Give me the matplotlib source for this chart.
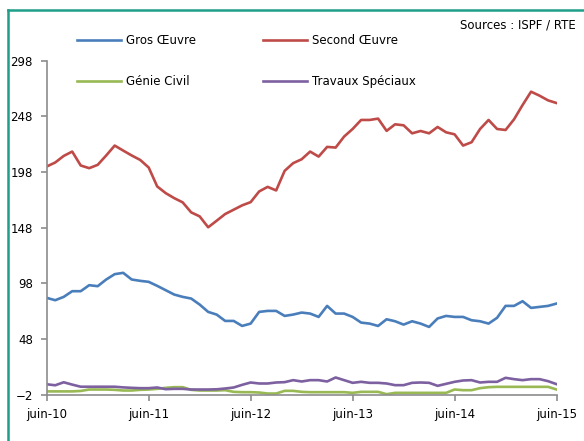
import matplotlib
matplotlib.use("Agg")
import matplotlib.pyplot as plt
from matplotlib.lines import Line2D

# Données (indices mensuels, juin 2010 -> juin 2015)
months = list(range(61))
tick_pos = [0, 12, 24, 36, 48, 60]
tick_labels = ["juin-10", "juin-11", "juin-12", "juin-13", "juin-14", "juin-15"]
y_ticks = [-2, 48, 98, 148, 198, 248, 298]

gros_oeuvre = [84.8, 82.7, 85.7, 90.8, 90.8, 96.2, 95.3, 101.3, 106.1, 107.3,
               101.3, 100.1, 99.2, 95.6, 91.7, 87.8, 85.7, 84.2, 78.8, 72.2,
               69.8, 64.1, 64.1, 59.6, 61.7, 72.2, 73.1, 73.1, 68.6, 69.8,
               71.6, 70.7, 67.7, 77.6, 70.7, 70.7, 67.7, 62.6, 61.7, 59.6,
               65.6, 63.8, 60.8, 63.8, 61.7, 58.7, 66.3, 68.6, 67.7, 67.7,
               64.7, 63.8, 61.7, 66.9, 77.6, 77.6, 81.8, 75.8, 76.7, 77.6,
               79.7]
second_oeuvre = [202.8, 206.4, 212.3, 216.2, 203.7, 201.3, 204.3, 212.7, 221.6, 217.1,
                 212.7, 208.7, 201.9, 184.9, 178.9, 174.4, 170.6, 161.6, 158.0, 148.2,
                 154.1, 160.1, 164.0, 167.9, 170.8, 180.4, 184.5, 181.3, 198.9, 205.8,
                 209.3, 216.2, 211.7, 220.4, 219.8, 229.7, 236.5, 244.6, 244.6, 245.8,
                 234.8, 240.7, 239.8, 232.6, 234.7, 232.6, 238.3, 233.5, 231.7, 221.6,
                 224.6, 236.5, 244.6, 236.5, 235.6, 245.2, 258.0, 270.0, 266.4, 262.2,
                 259.8]
genie_civil = [0.8, 0.8, 0.8, 0.8, 1.2, 2.5, 2.5, 2.5, 2.2, 1.6,
               1.6, 2.2, 2.5, 3.1, 4.0, 4.6, 4.6, 2.2, 1.6, 1.6,
               1.6, 1.9, 0.4, 0.1, 0.1, -0.2, -1.1, -1.1, 1.3, 1.3,
               0.4, 0.1, 0.1, 0.1, 0.1, 0.1, -0.5, 0.4, 0.4, 0.4,
               -1.7, -0.5, -0.5, -0.5, -0.5, -0.5, -0.5, -0.5, 2.5, 1.9,
               1.9, 3.7, 4.6, 4.9, 4.9, 4.9, 4.9, 4.9, 4.9, 4.9,
               2.5]
travaux_speciaux = [7.2, 6.3, 9.0, 6.9, 5.0, 5.0, 5.0, 5.0, 5.0, 4.4,
                    4.0, 3.7, 3.7, 4.3, 2.8, 3.1, 3.1, 2.5, 2.5, 2.5,
                    2.7, 3.4, 4.3, 6.7, 8.8, 7.9, 7.9, 8.8, 9.1, 10.9,
                    9.7, 10.9, 10.9, 9.7, 13.3, 10.9, 8.5, 9.4, 8.5, 8.5,
                    7.9, 6.4, 6.4, 8.5, 8.8, 8.5, 5.8, 7.6, 9.4, 10.6,
                    10.9, 8.8, 9.4, 9.4, 13.0, 11.8, 10.9, 11.8, 11.8, 10.0,
                    7.3]

series = [
    ("Gros Œuvre", gros_oeuvre, "#4a7ebb"),
    ("Second Œuvre", second_oeuvre, "#be4b48"),
    ("Génie Civil", genie_civil, "#98b954"),
    ("Travaux Spéciaux", travaux_speciaux, "#7d60a0"),
]

plt.rcParams["font.family"] = ["DejaVu Sans"]
fig = plt.figure(figsize=(5.84, 4.41), dpi=100)
ax = fig.add_axes([0.080, 0.1054, 0.873, 0.7574])

handles = []
for name, vals, col in series:
    h, = ax.plot(months, vals, color=col, lw=1.9, label=name, solid_joinstyle="round")
    handles.append(h)

ax.set_xlim(0, 60)
ax.set_ylim(-2, 298)
ax.set_yticks(y_ticks)
ax.set_xticks(tick_pos)
ax.set_xticklabels(tick_labels)
for s in ("top", "right"):
    ax.spines[s].set_visible(False)
for s in ("left", "bottom"):
    ax.spines[s].set_color("#8c8c8c")
    ax.spines[s].set_linewidth(1.2)
ax.tick_params(axis="both", color="#8c8c8c", length=4, width=1.2,
               labelsize=8.5, labelcolor="black")
ax.tick_params(axis="y", pad=6)
ax.tick_params(axis="x", pad=6)

leg_kw = dict(loc="upper left", frameon=False, fontsize=8.5, handlelength=3.7,
              handletextpad=0.45, labelspacing=2.35, borderpad=0, borderaxespad=0)
leg1 = fig.legend([handles[0], handles[2]], ["Gros Œuvre", "Génie Civil"],
                  bbox_to_anchor=(0.1318, 0.922), **leg_kw)
leg2 = fig.legend([handles[1], handles[3]], ["Second Œuvre", "Travaux Spéciaux"],
                  bbox_to_anchor=(0.4503, 0.922), **leg_kw)

fig.text(0.986, 0.943, "Sources : ISPF / RTE", ha="right", va="center", fontsize=8.5)

# cadre turquoise
teal = "#1f9e89"
fig.add_artist(Line2D([0.0137, 0.0137], [0.0, 0.978], color=teal, lw=1.8))
fig.add_artist(Line2D([0.0137, 1.0], [0.978, 0.978], color=teal, lw=1.8))

fig.savefig("out.png", dpi=100)
